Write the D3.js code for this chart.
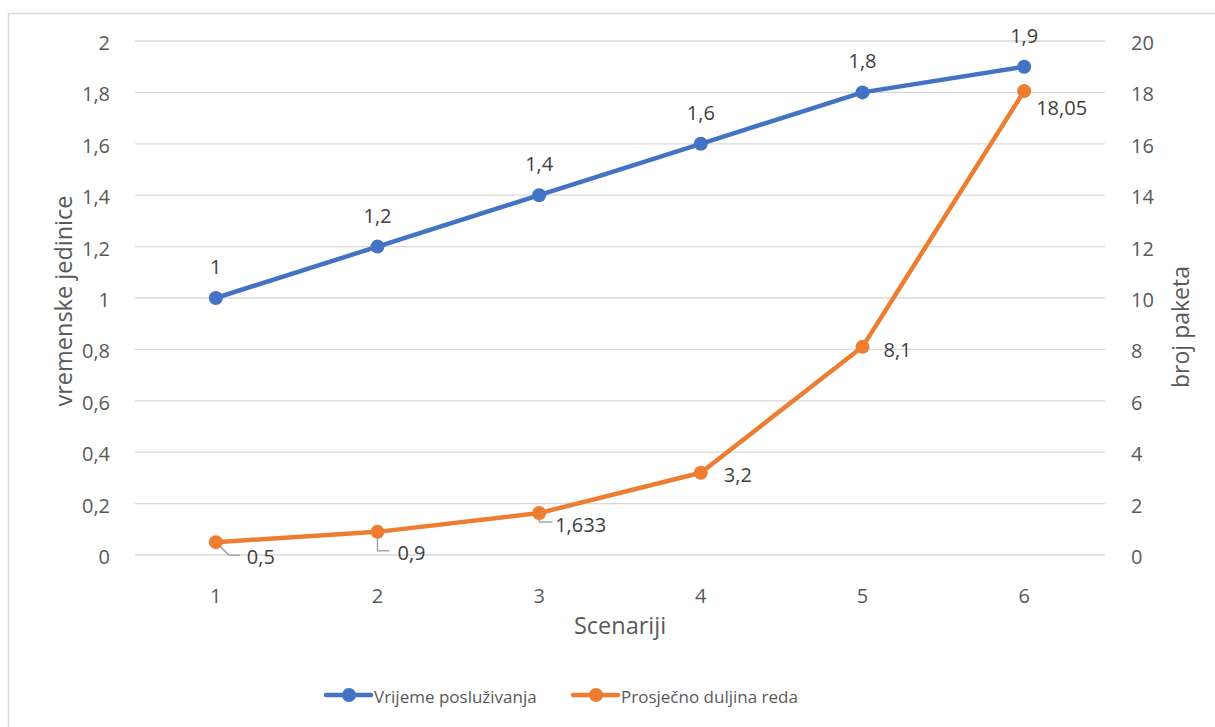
<!DOCTYPE html>
<html lang="hr">
<head>
  <meta charset="utf-8">
  <title>Scenariji</title>
  <script src="https://d3js.org/d3.v7.min.js"></script>
  <style>
    body { margin: 0; background: #fff; }
    text { font-family: "Open Sans", sans-serif; }
  </style>
</head>
<body>
  <div id="chart"></div>
  <script>
    // categories and series values
    const scenarios = [1, 2, 3, 4, 5, 6];
    const serviceTime = [1, 1.2, 1.4, 1.6, 1.8, 1.9];
    const queueLength = [0.5, 0.9, 1.633, 3.2, 8.1, 18.05];
    const leftTicks = [0, 0.2, 0.4, 0.6, 0.8, 1, 1.2, 1.4, 1.6, 1.8, 2];
    const rightTicks = [0, 2, 4, 6, 8, 10, 12, 14, 16, 18, 20];

    const width = 1215, height = 727;
    const plot = { left: 135, right: 1105, top: 41, bottom: 555 };
    const blue = "#4472C4", orange = "#ED7D31";
    const font = "'Open Sans', sans-serif";

    const fmt = v => String(v).replace(".", ",");

    const svg = d3.select("#chart").append("svg")
      .attr("width", width)
      .attr("height", height);

    // outer border of chart area (extends past the window)
    svg.append("rect")
      .attr("x", 8.5).attr("y", 13.5)
      .attr("width", 1240).attr("height", 740)
      .attr("fill", "#fff").attr("stroke", "#D9D9D9").attr("stroke-width", 1.5);

    const x = d3.scaleBand().domain(scenarios).range([plot.left, plot.right]);
    const yL = d3.scaleLinear().domain([0, 2]).range([plot.bottom, plot.top]);
    const yR = d3.scaleLinear().domain([0, 20]).range([plot.bottom, plot.top]);
    const cx = d => x(d) + x.bandwidth() / 2;

    // gridlines
    svg.append("g").selectAll("line").data(leftTicks).enter().append("line")
      .attr("x1", plot.left).attr("x2", plot.right)
      .attr("y1", d => yL(d)).attr("y2", d => yL(d))
      .attr("stroke", "#D9D9D9").attr("stroke-width", 1.3);

    // left axis
    const left = svg.append("g")
      .attr("transform", "translate(" + (plot.left - 22) + ",0)")
      .call(d3.axisLeft(yL).tickValues(leftTicks).tickSize(0).tickFormat(fmt));
    left.select(".domain").remove();
    left.selectAll("text").attr("font-size", 20).attr("fill", "#595959")
      .attr("dy", "0.42em").style("font-family", font);

    // right axis
    const right = svg.append("g")
      .attr("transform", "translate(" + (plot.right + 23) + ",0)")
      .call(d3.axisRight(yR).tickValues(rightTicks).tickSize(0).tickFormat(fmt));
    right.select(".domain").remove();
    right.selectAll("text").attr("font-size", 20).attr("fill", "#595959")
      .attr("dy", "0.42em").style("font-family", font);

    // bottom axis
    const bottom = svg.append("g")
      .attr("transform", "translate(0,603)")
      .call(d3.axisBottom(x).tickSize(0));
    bottom.select(".domain").remove();
    bottom.selectAll("text").attr("font-size", 20).attr("fill", "#595959")
      .attr("y", 0).attr("dy", 0)
      .style("font-family", font);

    // axis titles
    svg.append("text")
      .attr("transform", "translate(72," + ((plot.top + plot.bottom) / 2 + 3) + ") rotate(-90)")
      .attr("text-anchor", "middle").attr("font-size", 23.5).attr("fill", "#595959")
      .text("vremenske jedinice");
    svg.append("text")
      .attr("transform", "translate(1189,327) rotate(-90)")
      .attr("text-anchor", "middle").attr("font-size", 23).attr("fill", "#595959")
      .text("broj paketa");
    svg.append("text")
      .attr("x", 620).attr("y", 634)
      .attr("text-anchor", "middle").attr("font-size", 23.5).attr("fill", "#595959")
      .text("Scenariji");

    // lines
    const lineL = d3.line().x((d, i) => cx(scenarios[i])).y(d => yL(d));
    const lineR = d3.line().x((d, i) => cx(scenarios[i])).y(d => yR(d));

    // leader lines for first three orange labels
    const leaders = [
      [[0, 0], [13, 13], [24, 13]],
      [[0, 0], [0, 19], [12, 19]],
      [[0, 0], [0, 9], [13, 9]]
    ];
    svg.append("g").selectAll("path").data(leaders).enter().append("path")
      .attr("d", (d, i) => d3.line()(d.map(p => [cx(scenarios[i]) + p[0], yR(queueLength[i]) + p[1]])))
      .attr("fill", "none").attr("stroke", "#A6A6A6").attr("stroke-width", 1.5);

    svg.append("path").datum(serviceTime).attr("d", lineL)
      .attr("fill", "none").attr("stroke", blue).attr("stroke-width", 4.5).attr("stroke-linejoin", "round");
    svg.append("path").datum(queueLength).attr("d", lineR)
      .attr("fill", "none").attr("stroke", orange).attr("stroke-width", 4.5).attr("stroke-linejoin", "round");

    svg.append("g").selectAll("circle").data(serviceTime).enter().append("circle")
      .attr("cx", (d, i) => cx(scenarios[i])).attr("cy", d => yL(d)).attr("r", 7).attr("fill", blue);
    svg.append("g").selectAll("circle").data(queueLength).enter().append("circle")
      .attr("cx", (d, i) => cx(scenarios[i])).attr("cy", d => yR(d)).attr("r", 7).attr("fill", orange);

    // data labels
    svg.append("g").selectAll("text").data(serviceTime).enter().append("text")
      .attr("x", (d, i) => cx(scenarios[i])).attr("y", d => yL(d) - 24)
      .attr("text-anchor", "middle").attr("font-size", 20).attr("fill", "#404040")
      .text(fmt);

    const orangeOffsets = [[31, 22], [20, 28], [16, 19], [23, 9], [21, 10], [12, 24]];
    svg.append("g").selectAll("text").data(queueLength).enter().append("text")
      .attr("x", (d, i) => cx(scenarios[i]) + orangeOffsets[i][0])
      .attr("y", (d, i) => yR(d) + orangeOffsets[i][1])
      .attr("font-size", 20).attr("fill", "#404040")
      .text(fmt);

    // legend
    const legend = [
      { name: "Vrijeme posluživanja", color: blue, x: 326 },
      { name: "Prosječno duljina reda", color: orange, x: 573 }
    ];
    const lg = svg.append("g").selectAll("g").data(legend).enter().append("g")
      .attr("transform", d => "translate(" + d.x + ",695)");
    lg.append("line").attr("x1", 0).attr("x2", 45)
      .attr("stroke", d => d.color).attr("stroke-width", 4.5).attr("stroke-linecap", "round");
    lg.append("circle").attr("cx", 23).attr("r", 7).attr("fill", d => d.color);
    lg.append("text").attr("x", 48).attr("y", 8)
      .attr("font-size", 17).attr("fill", "#595959")
      .text(d => d.name);
  </script>
</body>
</html>
